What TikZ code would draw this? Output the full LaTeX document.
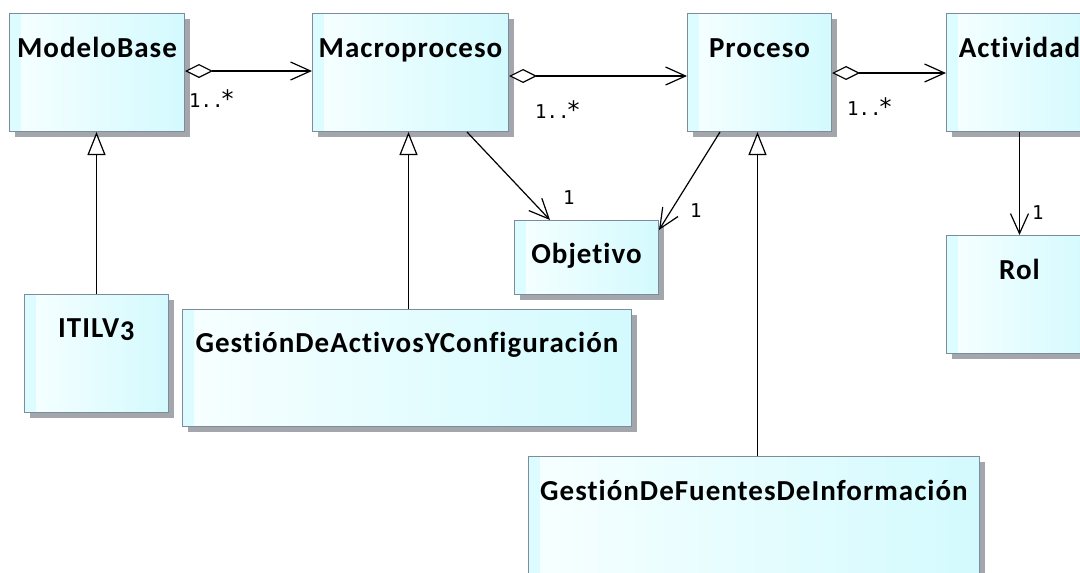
\documentclass[tikz,border=0pt]{standalone}
\usepackage{fontspec}
\setmainfont{Carlito}
\newfontfamily\clsfont{Carlito}[LetterSpace=3.5,Numbers=OldStyle,Ligatures=NoCommon]
\newfontfamily\mulfont{DejaVu Sans Mono}
\newfontfamily\starfont{DejaVu Sans}
\newcommand{\mstar}{\kern-2pt{\starfont\fontsize{24}{24}\selectfont *}}
\usetikzlibrary{arrows.meta,shadows,calc}
\definecolor{boxborder}{HTML}{7C8C9C}
\definecolor{fillL}{HTML}{F7FFFF}
\definecolor{fillR}{HTML}{D3FAFE}
\definecolor{stripc}{HTML}{DDFCFF}
\definecolor{shadowc}{HTML}{A3A6AA}
\begin{document}
\begin{tikzpicture}[x=1pt,y=-1pt,
  cls/.style={draw=boxborder, line width=1pt, left color=fillL, right color=fillR,
    anchor=north west, inner sep=0pt,
    drop shadow={shadow xshift=5pt, shadow yshift=-5pt, fill=shadowc, opacity=1},
    path picture={\fill[stripc] (path picture bounding box.north west) rectangle ([xshift=11pt]path picture bounding box.south west);}},
  title/.style={anchor=base, font=\clsfont\bfseries\fontsize{29}{32}\selectfont, inner sep=0pt},
  mult/.style={anchor=base west, font=\mulfont\fontsize{19}{21}\selectfont, inner sep=0pt},
  conn/.style={line width=1.2pt, draw=black},
  agg/.style={conn, {Diamond[length=28pt, width=14pt, fill=white]}-{Straight Barb[length=20pt, width=18pt]}},
  assoc/.style={conn, -{Straight Barb[length=20pt, width=18pt]}},
  gen/.style={conn, -{Triangle[length=23pt, width=18pt, fill=white]}}
]
\useasboundingbox (0,0) rectangle (1080,573);
\fill[white] (0,0) rectangle (1080,573);
\clip (0,0) rectangle (1080,573);

% classes
\node[cls, minimum width=175pt, minimum height=118pt] (mb) at (9,13) {};
\node[cls, minimum width=196pt, minimum height=118pt] (mp) at (312,13) {};
\node[cls, minimum width=144pt, minimum height=118pt] (pr) at (687,13) {};
\node[cls, minimum width=146pt, minimum height=118pt] (ac) at (946,13) {};
\node[cls, minimum width=146pt, minimum height=118pt] (rol) at (946,235) {};
\node[cls, minimum width=144pt, minimum height=74pt] (obj) at (514,220) {};
\node[cls, minimum width=144pt, minimum height=118pt] (itil) at (24,294) {};
\node[cls, minimum width=449pt, minimum height=117pt] (gac) at (182,309) {};
\node[cls, minimum width=451pt, minimum height=150pt] (gfi) at (528,456) {};

% titles
\node[title] (tmb) at ($(mb.north)+(0,44)$) {ModeloBase};
\node[title] (tmp) at ($(mp.north)+(0,44)$) {Macroproceso};
\node[title] (tpr) at ($(pr.north)+(0,44)$) {Proceso};
\node[title] (tac) at ($(ac.north)+(0,44)$) {Actividad};
\node[title] (trol) at ($(rol.north)+(0,44)$) {Rol};
\node[title] (tobj) at ($(obj.north)+(0,43)$) {Objetivo};
\node[title] (titil) at ($(itil.north)+(0,43)$) {ITILV3};
\node[title] (tgac) at ($(gac.north)+(0,43)$) {GestiónDeActivosYConfiguración};
\node[title] (tgfi) at ($(gfi.north)+(0,44)$) {GestiónDeFuentesDeInformación};

% aggregations
\draw[agg] ([yshift=-58pt]mb.north east) -- ([yshift=-58pt]mp.north west);
\draw[agg] ([yshift=-63pt]mp.north east) -- ([yshift=-63pt]pr.north west);
\draw[agg] ([yshift=-60pt]pr.north east) -- ([yshift=-60pt]ac.north west);
\node[mult] (m1) at (189,107) {1..\mstar};
\node[mult] (m2) at (535,118) {1..\mstar};
\node[mult] (m3) at (847,115) {1..\mstar};

% associations
\draw[assoc] ([xshift=-42pt]mp.south east) -- ([xshift=36pt]obj.north west);
\draw[assoc] ([xshift=33pt]pr.south west) -- ([yshift=-10pt]obj.north east);
\draw[assoc] (ac.south) -- (rol.north);
\node[mult] (m4) at (563,204) {1};
\node[mult] (m5) at (690,217) {1};
\node[mult] (m6) at (1032,219) {1};

% generalizations
\draw[gen] (itil.north) -- (itil.north |- mb.south);
\draw[gen] ([xshift=1.5pt]gac.north) -- ([xshift=1.5pt]gac.north |- mp.south);
\draw[gen] ([xshift=3.5pt]gfi.north) -- ([xshift=3.5pt]gfi.north |- pr.south);
\end{tikzpicture}
\end{document}
